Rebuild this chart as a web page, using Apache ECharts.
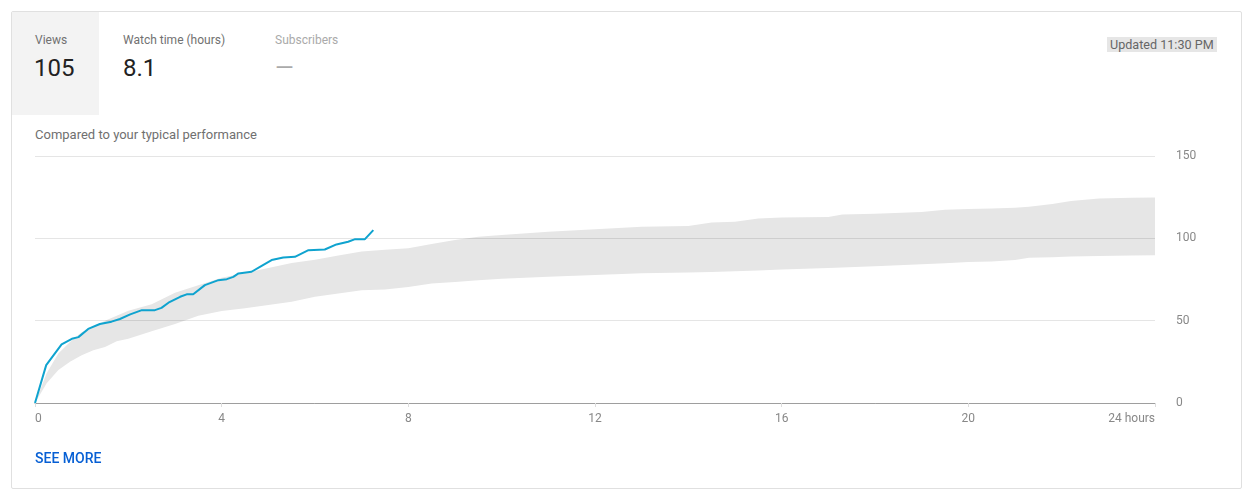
<!DOCTYPE html>
<html>
<head>
<meta charset="utf-8">
<script src="https://cdn.jsdelivr.net/npm/echarts@6.0.0/dist/echarts.min.js"></script>
<style>
  html, body { margin: 0; padding: 0; background: #fff; font-family: Roboto, "Noto Sans", sans-serif; }
  #wrap { position: relative; width: 1248px; height: 499px; overflow: hidden; }
  #card { position: absolute; left: 11px; top: 11px; width: 1231px; height: 478px; border: 1px solid #e0e0e0; border-radius: 2px; box-sizing: border-box; }
  #tab { position: absolute; left: 12px; top: 12px; width: 87px; height: 103px; background: #f3f3f3; }
  .lbl { position: absolute; top: 33px; font-size: 12px; color: #717171; }
  .num { position: absolute; top: 54px; font-size: 24px; color: #222; }
  #updated { position: absolute; left: 1107px; top: 37px; height: 15px; line-height: 15px; padding: 0 3px; background: #e6e6e6; font-size: 12.6px; color: #666; }
  #compared { position: absolute; left: 35px; top: 127px; font-size: 13px; color: #707070; }
  #more { position: absolute; left: 35px; top: 450px; font-size: 14px; font-weight: 500; color: #065fd4; }
  #myChart { position: absolute; left: 0; top: 0; width: 1248px; height: 499px; }
</style>
</head>
<body>
<div id="wrap">
  <div id="card"></div>
  <div id="tab"></div>
  <div class="lbl" style="left:35px">Views</div>
  <div class="num" style="left:34px">105</div>
  <div class="lbl" style="left:123px">Watch time (hours)</div>
  <div class="num" style="left:123px">8.1</div>
  <div class="lbl" style="left:275px;color:#aaa">Subscribers</div>
  <div class="num" style="left:275px;color:#aaa">—</div>
  <div id="updated">Updated 11:30 PM</div>
  <div id="compared">Compared to your typical performance</div>
  <div id="myChart"></div>
  <div id="more">SEE MORE</div>
</div>
<script>
// views since publish (hours, views)
var viewHours = [0, 0.24, 0.57, 0.79, 0.93, 1.14, 1.39, 1.64, 1.82, 2.04, 2.29, 2.57, 2.71, 2.86, 3.11, 3.25, 3.39, 3.64, 3.93, 4.11, 4.25, 4.36, 4.64, 4.82, 5.07, 5.32, 5.57, 5.86, 6.21, 6.46, 6.71, 6.86, 7.07, 7.25];
var viewValues = [0, 23, 35.6, 39, 40, 45, 48, 49.4, 51, 53.8, 56.4, 56.4, 57.8, 60.9, 64.5, 66, 66, 71.6, 74.6, 75.2, 76.6, 78.7, 79.7, 82.7, 86.8, 88.4, 88.8, 92.8, 93.2, 96.3, 97.9, 99.5, 99.5, 105];

// typical performance range
var bandHours = [0, 0.25, 0.5, 0.75, 1, 1.25, 1.5, 1.75, 2, 2.5, 3, 3.5, 4, 4.5, 5, 5.5, 6, 6.5, 7, 7.5, 8, 8.5, 9, 9.5, 10, 11, 12, 13, 14, 14.5, 15, 15.5, 16, 17, 17.3, 18, 19, 19.5, 20, 20.5, 21, 21.3, 21.8, 22.2, 22.8, 23.5, 24];
var bandLow = [0, 12, 20, 25, 29, 32, 34, 37.5, 39, 43.5, 48, 53, 55.8, 57.5, 59.5, 61.5, 64.5, 66.5, 68.5, 69, 70.5, 72.5, 73.5, 74.5, 75.5, 76.7, 77.8, 78.8, 79.3, 79.6, 80, 80.5, 81, 82, 82.3, 83, 84.2, 84.8, 85.6, 86, 86.9, 88.2, 88.5, 88.9, 89.3, 89.6, 89.8];
var bandHigh = [0, 18, 30, 37, 43, 46, 50, 53, 56, 60, 67, 71.5, 76, 79, 82, 85, 87, 89.5, 92, 93, 94, 96.5, 99, 101, 102, 104, 105.5, 107, 107.5, 109.6, 110, 112, 112.6, 113, 114.5, 115, 116, 117.3, 117.8, 118.1, 118.5, 119.2, 120.8, 122.6, 124.2, 124.6, 124.8];

var xTicks = [0, 4, 8, 12, 16, 20, 24];
var yTicks = [0, 50, 100, 150];

var lowData = [];
var highData = [];
for (var i = 0; i < bandHours.length; i++) {
  lowData.push([bandHours[i], bandLow[i]]);
  highData.push([bandHours[i], bandHigh[i]]);
}
var lineData = [];
for (var k = 0; k < viewHours.length; k++) {
  lineData.push([viewHours[k], viewValues[k]]);
}

var myChart = echarts.init(document.getElementById("myChart"));
var option = {
  animation: false,
  textStyle: { fontFamily: "Roboto" },
  grid: { left: 35, right: 93, top: 156, bottom: 96 },
  xAxis: {
    type: "value",
    min: xTicks[0],
    max: xTicks[xTicks.length - 1],
    interval: 4,
    axisLine: { lineStyle: { color: "#9e9e9e", width: 1 } },
    axisTick: { show: true, length: 4, lineStyle: { color: "#dddddd" } },
    splitLine: { show: false },
    axisLabel: {
      color: "#888",
      fontSize: 12,
      margin: 10,
      alignMinLabel: "left",
      alignMaxLabel: "right",
      formatter: function(v) {
        return v === 24 ? "24 hours" : String(v);
      }
    }
  },
  yAxis: {
    type: "value",
    position: "right",
    min: yTicks[0],
    max: yTicks[yTicks.length - 1],
    interval: 50,
    axisLine: { show: false },
    axisTick: { show: false },
    axisLabel: { color: "#888", fontSize: 12, margin: 21 },
    splitLine: { lineStyle: { color: "rgba(0,0,0,0.1)", width: 1 } }
  },
  series: [
    {
      // upper edge of the typical range, filled grey down to 0
      name: "high",
      type: "line",
      z: -3,
      symbol: "none",
      lineStyle: { opacity: 0 },
      areaStyle: { color: "#e6e6e6", opacity: 1 },
      data: highData
    },
    {
      // lower edge, filled white to cut the band out
      name: "low",
      type: "line",
      z: -2,
      symbol: "none",
      lineStyle: { opacity: 0 },
      areaStyle: { color: "#ffffff", opacity: 1 },
      data: lowData
    },
    {
      name: "Views",
      type: "line",
      z: 5,
      symbol: "none",
      smooth: false,
      lineStyle: { color: "#0fa3cf", width: 2 },
      data: lineData
    }
  ]
};
myChart.setOption(option);
</script>
</body>
</html>
